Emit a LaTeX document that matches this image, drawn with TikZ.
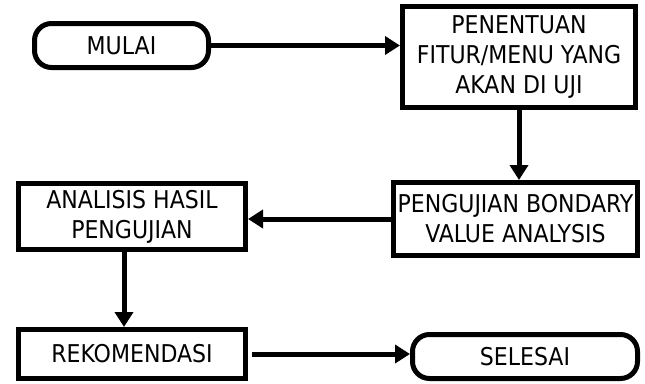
\documentclass[tikz,border=0pt]{standalone}
\usepackage{fontspec}
\setmainfont{DejaVu Sans Condensed}
\usetikzlibrary{positioning, arrows.meta, calc}

\tikzset{
    terminal/.style={draw, line width=5pt, rounded corners=17pt, align=center, inner sep=0pt},
    process/.style={draw, line width=5pt, align=center, inner sep=0pt},
    flow/.style={line width=5pt, -{Triangle[length=15pt, width=18pt]}},
}

\begin{document}
\begin{tikzpicture}[x=1pt, y=-1pt, font=\fontsize{24.5}{30}\selectfont]
    \useasboundingbox (0,0) rectangle (645,383);

    % Start and first step
    \node[terminal, minimum width=174pt, minimum height=44pt] (mulai) at (121.5,45.5) {MULAI};
    \node[process, minimum width=233pt, minimum height=101pt] (penentuan) at (519,57) {PENENTUAN\\FITUR/MENU YANG\\AKAN DI UJI};

    % Testing and analysis
    \node[process, minimum width=244pt, minimum height=73pt] (pengujian) at (515.5,219) {PENGUJIAN BONDARY\\VALUE ANALYSIS};
    \node[process, minimum width=227pt, minimum height=66pt] (analisis) at (132,216.5) {ANALISIS HASIL\\PENGUJIAN};

    % Result and end
    \node[process, minimum width=227pt, minimum height=49pt] (rekomendasi) at (132,354) {REKOMENDASI};
    \node[terminal, minimum width=225pt, minimum height=44pt] (selesai) at (525,356.5) {SELESAI};

    % Connectors
    \draw[flow] (mulai.east) -- (mulai.east -| penentuan.west);
    \draw[flow] (penentuan.south) -- (penentuan.south |- pengujian.north);
    \draw[flow] (pengujian.west) -- (pengujian.west -| analisis.east);
    \draw[flow] ([xshift=-8pt]analisis.south) -- ([xshift=-8pt]analisis.south |- rekomendasi.north);
    \draw[flow] ([xshift=4pt]rekomendasi.east) -- (rekomendasi.east -| selesai.west);
\end{tikzpicture}
\end{document}
